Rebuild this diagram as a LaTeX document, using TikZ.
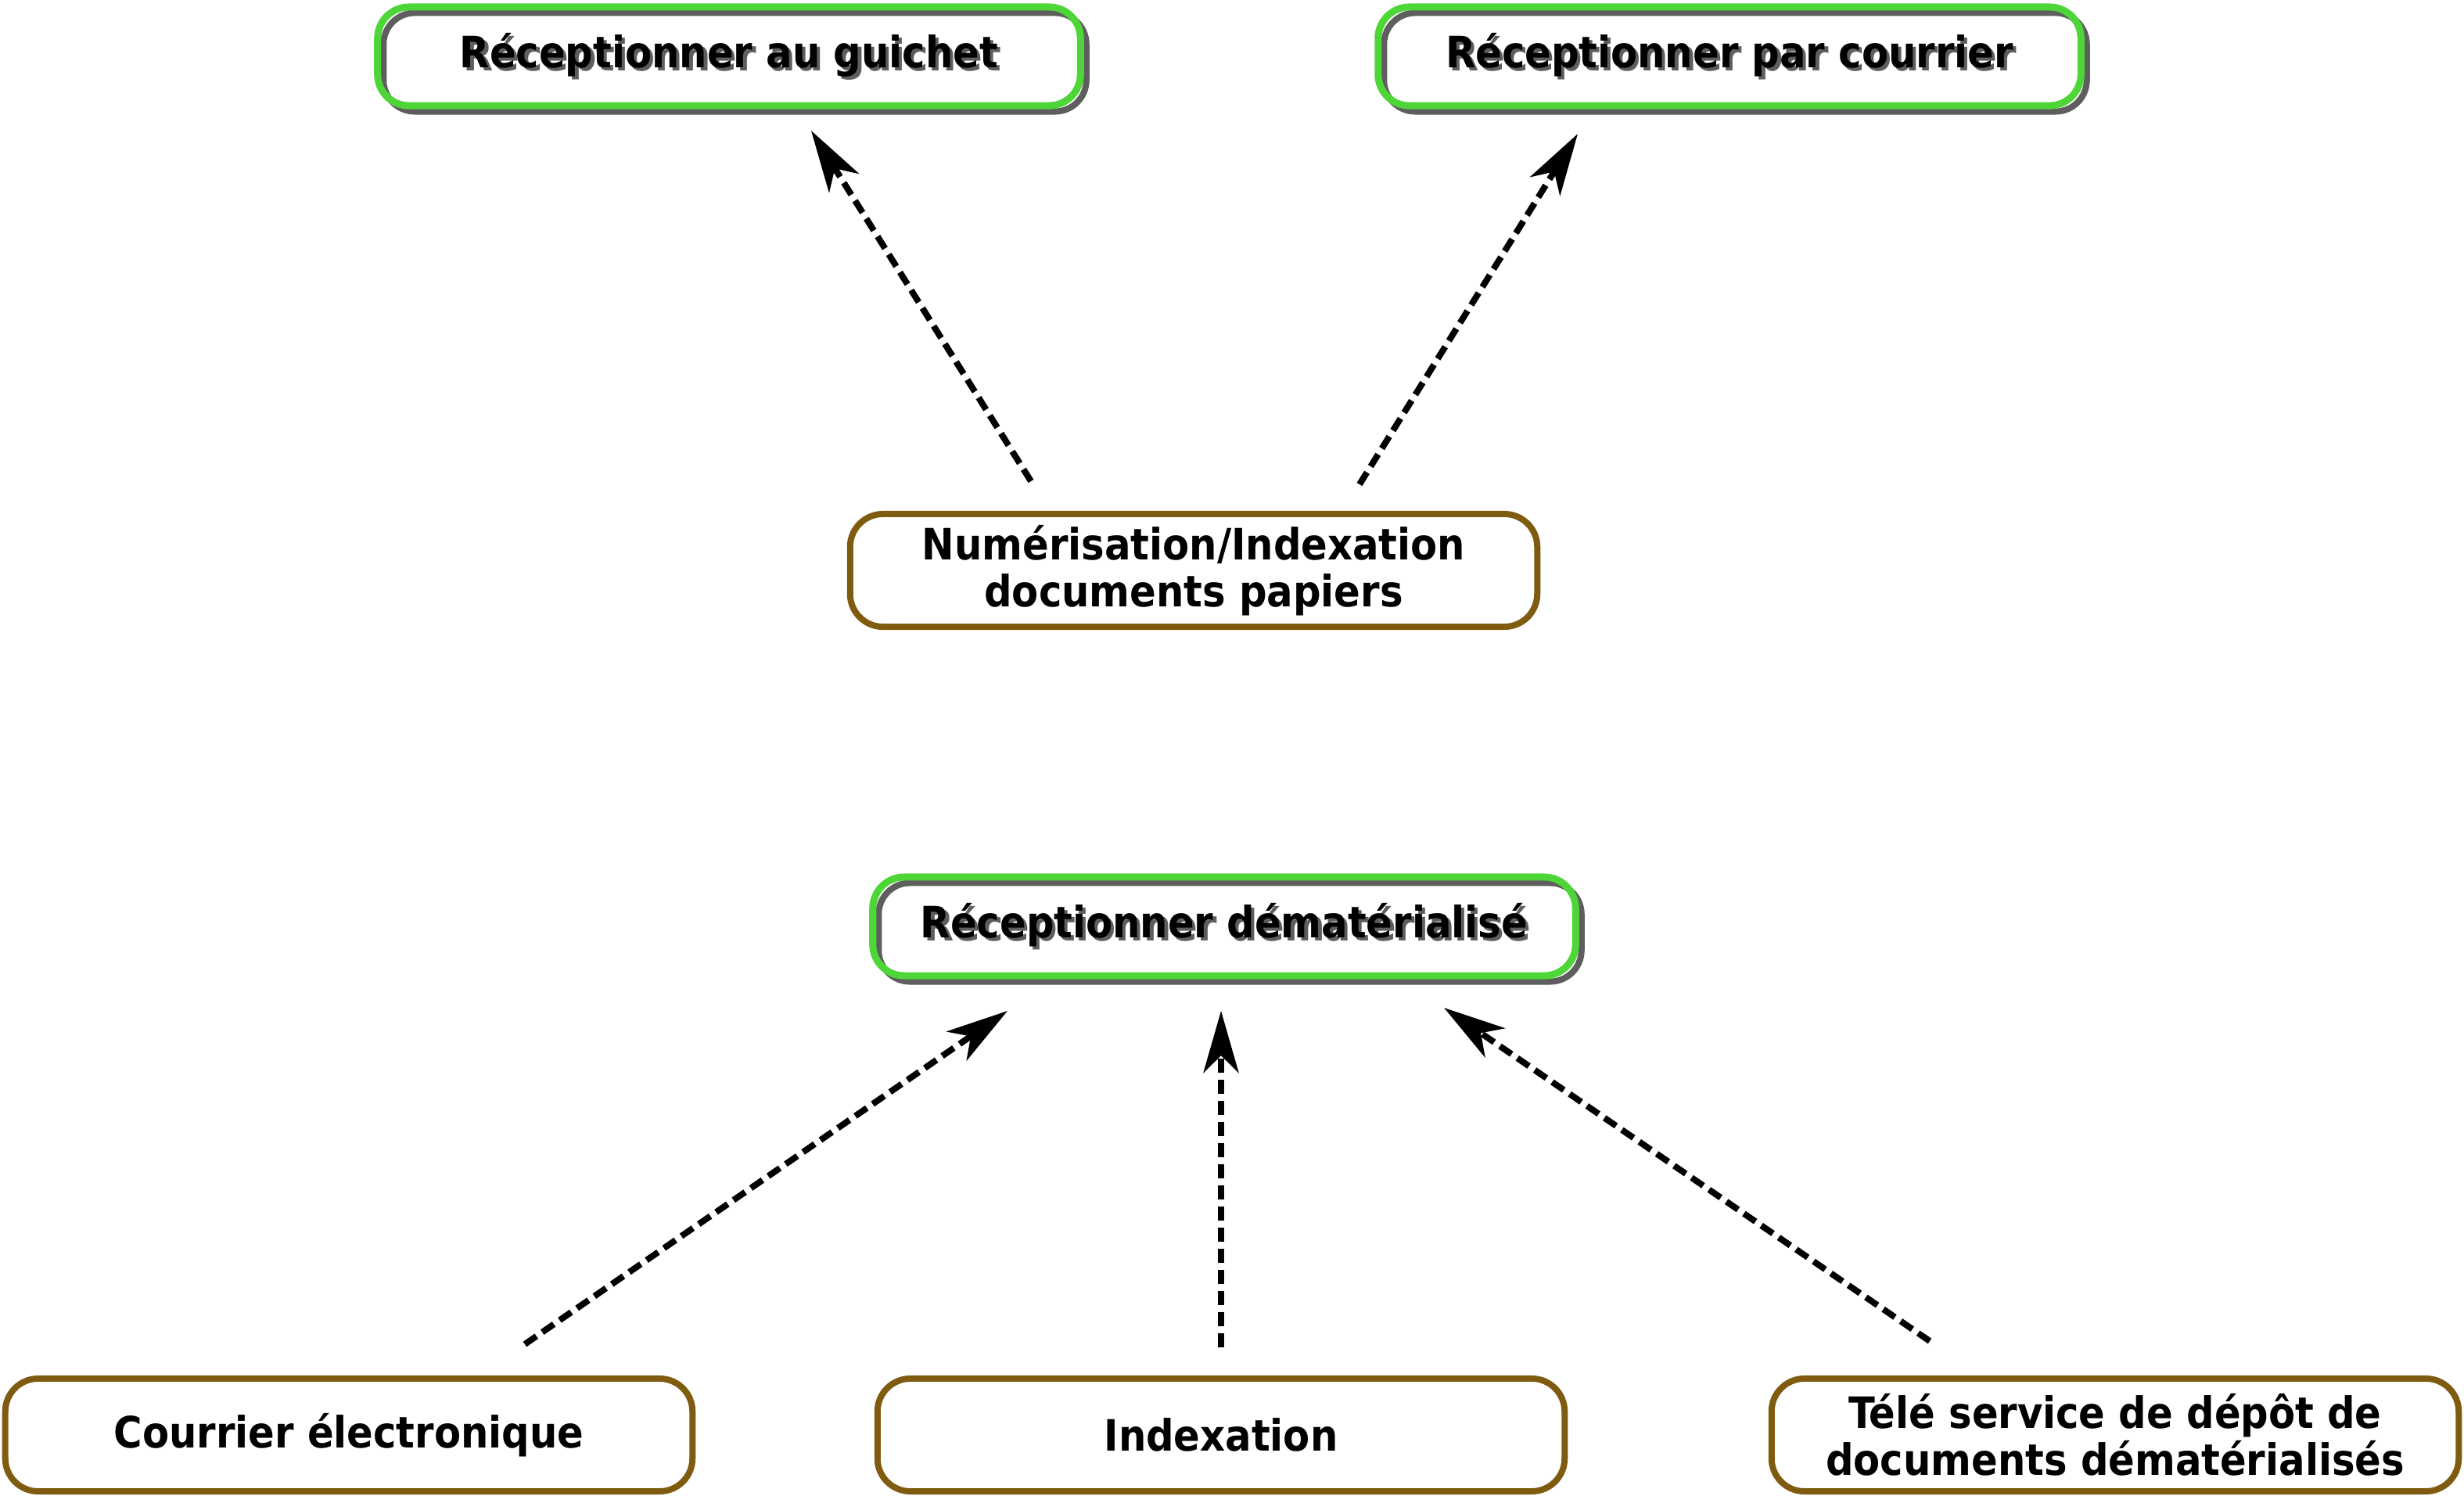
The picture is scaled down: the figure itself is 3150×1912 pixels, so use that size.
\documentclass[tikz,border=0pt]{standalone}
\usepackage{fontspec}
\setmainfont{DejaVu Sans Condensed}
\usetikzlibrary{arrows.meta}
\definecolor{boxgreen}{HTML}{4ED638}
\definecolor{shadowgray}{HTML}{5E5E5E}
\definecolor{boxbrown}{HTML}{7F5B10}
\newcommand{\shadowtext}[1]{\mbox{\rlap{\hspace{1.2pt}\raisebox{-1.2pt}{\textcolor{shadowgray}{#1}}}#1}}
\begin{document}
\begin{tikzpicture}[x=0.01cm,y=-0.01cm,
  font=\fontsize{15.7}{17.2}\selectfont\bfseries,
  greenbox/.style={draw=boxgreen, line width=0.09cm, rounded corners=0.4cm,
    minimum width=8.98cm, minimum height=1.26cm, inner sep=0pt, align=center,
    preaction={draw=shadowgray, line width=0.08cm, transform canvas={xshift=0.075cm,yshift=-0.075cm}}},
  brownbox/.style={draw=boxbrown, line width=0.08cm, rounded corners=0.42cm,
    minimum width=8.78cm, minimum height=1.44cm, inner sep=0pt, align=center},
  flow/.style={draw=black, line width=0.08cm, dash pattern=on 0.18cm off 0.09cm,
    -{Stealth[length=0.79cm,width=0.45cm,inset=0.22cm]}}
]
\useasboundingbox (0,0) rectangle (3150,1912);

\node[greenbox] (guichet) at (932,72) {\shadowtext{Réceptionner au guichet}};
\node[greenbox] (courrier) at (2211,72) {\shadowtext{Réceptionner par courrier}};
\node[brownbox] (numer) at (1526,729) {Numérisation/Indexation\\documents papiers};
\node[greenbox] (demat) at (1565,1184) {\shadowtext{Réceptionner dématérialisé}};
\node[brownbox] (mail) at (446,1834) {Courrier électronique};
\node[brownbox] (index) at (1561,1834) {Indexation};
\node[brownbox] (tele) at (2704,1834) {Télé service de dépôt de\\documents dématérialisés};

\coordinate (a1s) at (1318,615);
\coordinate (a1e) at (1037,167);
\coordinate (a2s) at (1738,619);
\coordinate (a2e) at (2017,171);
\coordinate (a3s) at (671,1718);
\coordinate (a3e) at (1288,1292);
\coordinate (a4s) at (1561,1722);
\coordinate (a4e) at (1561,1292);
\coordinate (a5s) at (2467,1714);
\coordinate (a5e) at (1846,1288);

\draw[flow] (a1s) -- (a1e);
\draw[flow] (a2s) -- (a2e);
\draw[flow] (a3s) -- (a3e);
\draw[flow] (a4s) -- (a4e);
\draw[flow] (a5s) -- (a5e);
\end{tikzpicture}
\end{document}
